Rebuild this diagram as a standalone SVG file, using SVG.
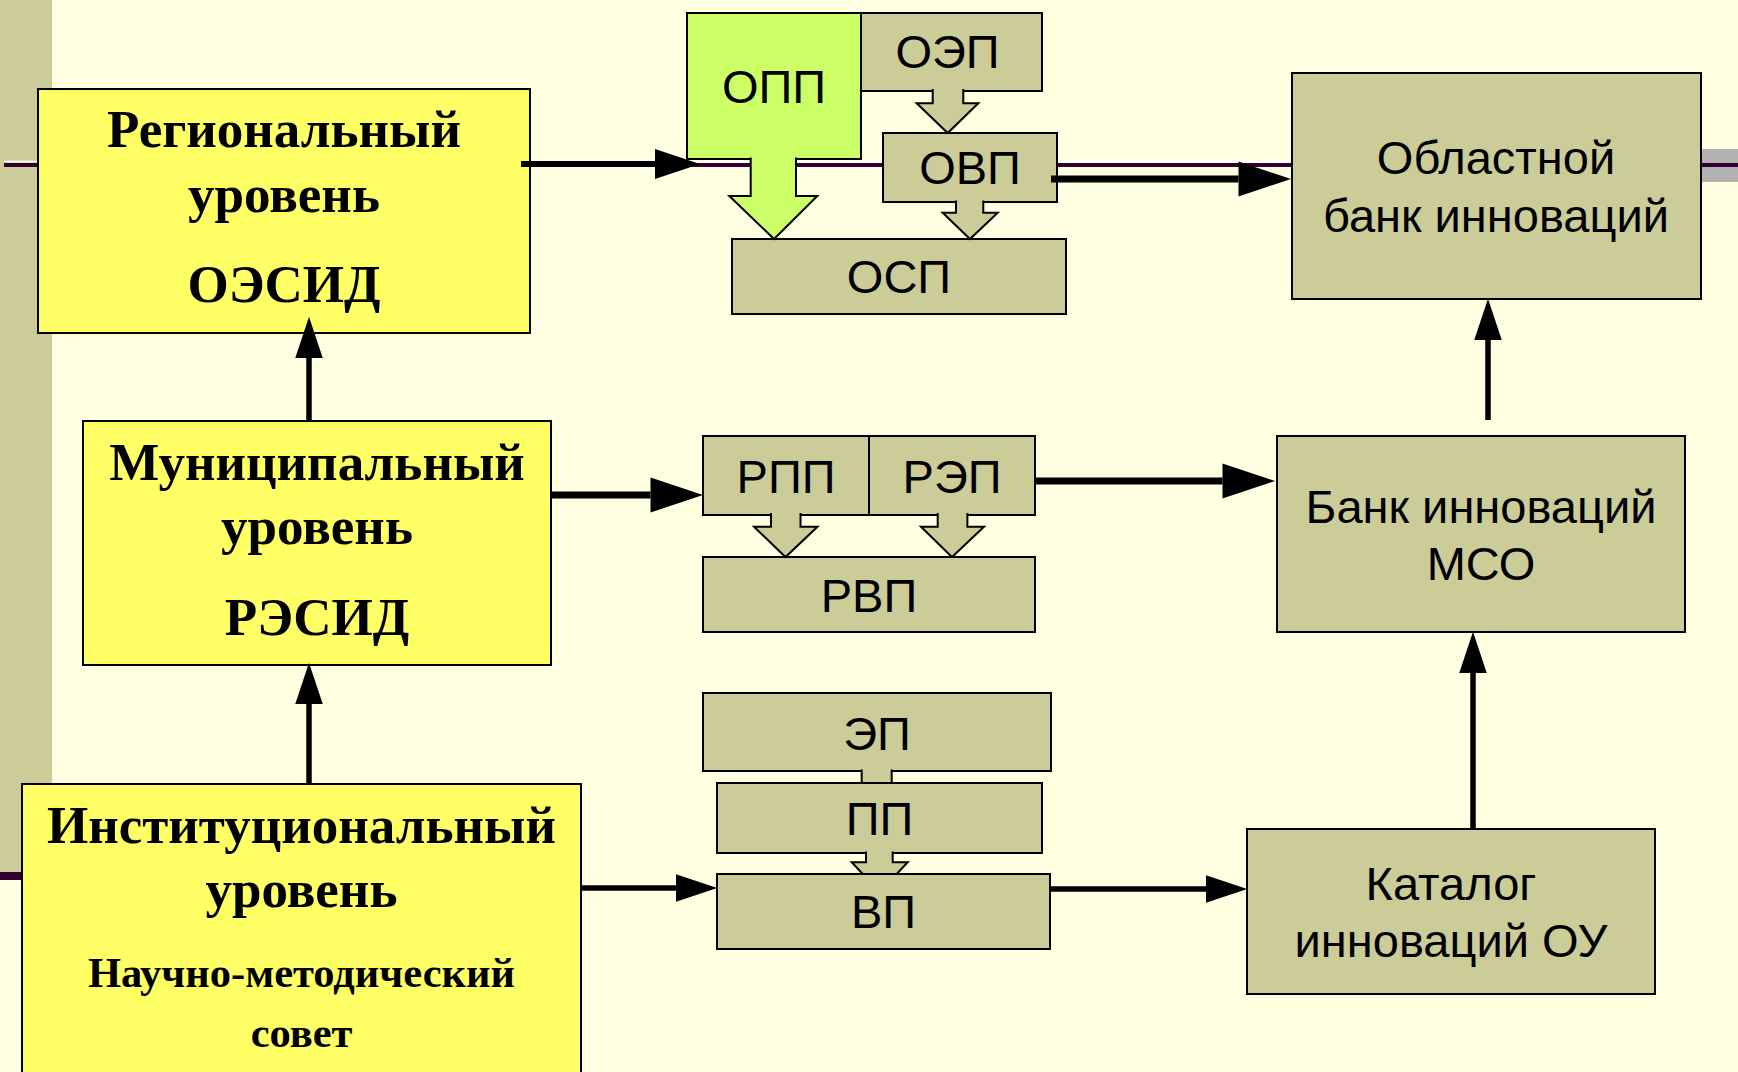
<svg xmlns="http://www.w3.org/2000/svg" width="1738" height="1072" viewBox="0 0 1738 1072">
<defs>
<style>
.bg{fill:#FFFFE1}
.strip{fill:#CCCC99}
.tl{stroke:#330033;fill:none}
.yb{fill:#FFFF66;stroke:#000;stroke-width:2}
.kb{fill:#CCCC99;stroke:#000;stroke-width:2}
.gb{fill:#CCFF66;stroke:#000;stroke-width:2}
.st{font-family:"Liberation Serif","Times New Roman",serif;font-weight:bold;font-size:53px;fill:#000;text-anchor:middle}
.st2{font-size:42.5px}
.ss{font-family:"Liberation Sans",Arial,sans-serif;font-size:47px;fill:#000;text-anchor:middle}
.ar{stroke:#000;fill:none;marker-end:url(#ah)}
.ba{fill:#CCCC99;stroke:#000;stroke-width:2;stroke-linejoin:miter}
.bag{fill:#CCFF66;stroke:#000;stroke-width:2;stroke-linejoin:miter}
</style>
<marker id="ah" markerUnits="strokeWidth" markerWidth="7.5" markerHeight="5" refX="0" refY="2.5" orient="auto" overflow="visible">
<path d="M0,0 L7.5,2.5 L0,5 z" fill="#000"/>
</marker>
</defs>
<rect class="bg" x="0" y="0" width="1738" height="1072"/>
<g id="template">
<rect class="strip" x="0" y="0" width="52" height="872"/>
<line x1="4" y1="161.5" x2="1700" y2="161.5" stroke="#FFFFFF" stroke-width="1.5"/>
<rect x="1700" y="149" width="38" height="33" fill="#B2B2B2"/>
<line class="tl" x1="4" y1="165" x2="1738" y2="165" stroke-width="4"/>
<line class="tl" x1="0" y1="876" x2="30" y2="876" stroke-width="8"/>
</g>
<g id="nodes">
<g id="regional"><rect class="yb" x="38" y="89" width="492" height="244"/>
<text class="st" x="284" y="147">Региональный</text><text class="st" x="284" y="212">уровень</text><text class="st" x="284" y="302">ОЭСИД</text></g>
<g id="oep"><rect class="kb" x="853" y="13" width="189" height="78"/><text class="ss" x="947.5" y="68">ОЭП</text></g>
<g id="opp"><rect class="gb" x="687" y="13" width="174" height="146"/><text class="ss" x="774" y="103">ОПП</text></g>
<g id="ovp"><rect class="kb" x="883" y="133" width="174" height="69"/><text class="ss" x="970" y="184">ОВП</text></g>
<g id="osp"><rect class="kb" x="732" y="239" width="334" height="75"/><text class="ss" x="899" y="293">ОСП</text></g>
<g id="oblbank"><rect class="kb" x="1292" y="73" width="409" height="226"/>
<text class="ss" x="1496" y="174">Областной</text><text class="ss" x="1496" y="232">банк инноваций</text></g>
<g id="municipal"><rect class="yb" x="83" y="421" width="468" height="244"/>
<text class="st" x="317" y="480">Муниципальный</text><text class="st" x="317" y="544">уровень</text><text class="st" x="317" y="635">РЭСИД</text></g>
<g id="rpp"><rect class="kb" x="703" y="436" width="166" height="79"/><text class="ss" x="786" y="493">РПП</text></g>
<g id="rep"><rect class="kb" x="869" y="436" width="166" height="79"/><text class="ss" x="952" y="493">РЭП</text></g>
<g id="rvp"><rect class="kb" x="703" y="557" width="332" height="75"/><text class="ss" x="869" y="612">РВП</text></g>
<g id="bankmso"><rect class="kb" x="1277" y="436" width="408" height="196"/>
<text class="ss" x="1481" y="523">Банк инноваций</text><text class="ss" x="1481" y="580">МСО</text></g>
<g id="institutional"><rect class="yb" x="22" y="784" width="559" height="300"/>
<text class="st" x="301.5" y="843">Институциональный</text><text class="st" x="301.5" y="907">уровень</text>
<text class="st st2" x="301.5" y="987">Научно-методический</text><text class="st st2" x="301.5" y="1047">совет</text></g>
<g id="ep"><rect class="kb" x="703" y="693" width="348" height="78"/><text class="ss" x="877" y="750">ЭП</text></g>
<g id="pp"><rect class="kb" x="717" y="783" width="325" height="70"/><text class="ss" x="879.5" y="835">ПП</text></g>
<g id="vp"><rect class="kb" x="717" y="874" width="333" height="75"/><text class="ss" x="883.5" y="928">ВП</text></g>
<g id="catalog"><rect class="kb" x="1247" y="829" width="408" height="165"/>
<text class="ss" x="1451" y="900">Каталог</text><text class="ss" x="1451" y="957">инноваций ОУ</text></g>
</g>
<g id="connectors">
<path class="ba" d="M932.7,89 V103.3 H916.7 L947.7,133 L978.3,103.3 H963.3 V89"/>
<path class="ba" d="M956,200.5 V212.7 H942.7 L970,239 L997.7,212.7 H983.3 V200.5"/>
<path class="bag" d="M750.7,157.5 V196 H729.3 L774,239 L817.3,196 H796 V157.5"/>
<path class="ba" d="M771,513 V526.7 H754 L785.5,557 L817.5,526.7 H800.5 V513"/>
<path class="ba" d="M937.7,513 V526.7 H921 L952,557 L984,526.7 H967.4 V513"/>
<path class="ba" d="M861.7,769.5 V783 H891.7 V769.5"/>
<path class="ba" d="M866,851.5 V862.3 H851.7 L862.7,874 H896.7 L907.7,862.3 H892.7 V851.5"/>
<path class="ar" d="M521,164 H655" stroke-width="6"/>
<path class="ar" d="M1051,179 H1238.5" stroke-width="7"/>
<path class="ar" d="M551,495 H650.5" stroke-width="7"/>
<path class="ar" d="M1035,481 H1222.5" stroke-width="7"/>
<path class="ar" d="M581,888 H676" stroke-width="5.5"/>
<path class="ar" d="M1050,889 H1206" stroke-width="5.5"/>
<path class="ar" d="M309,421 V358" stroke-width="5.5"/>
<path class="ar" d="M309,784 V704" stroke-width="5.5"/>
<path class="ar" d="M1473,829 V673" stroke-width="5.5"/>
<path class="ar" d="M1488,420 V340" stroke-width="5.5"/>
</g>
</svg>
